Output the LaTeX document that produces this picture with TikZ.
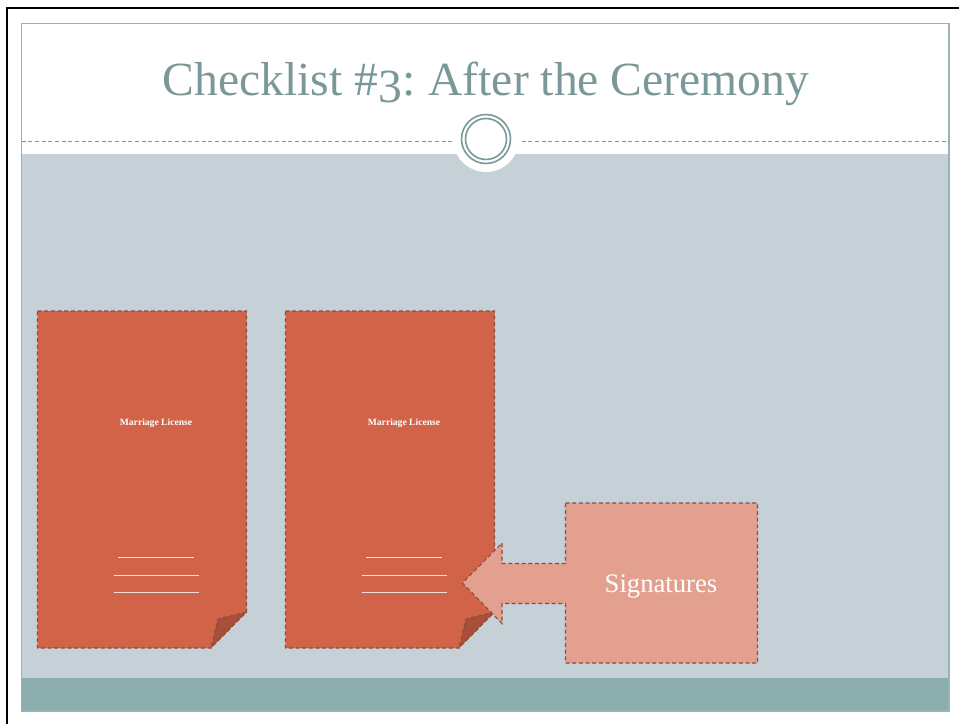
\documentclass[tikz,border=0pt]{standalone}
\usepackage{fontspec}
\setmainfont{Liberation Serif}
\definecolor{bodyblue}{HTML}{C5D1D7}
\definecolor{footteal}{HTML}{8BADAD}
\definecolor{titleteal}{HTML}{7B9899}
\definecolor{pagered}{HTML}{D16349}
\definecolor{folddark}{HTML}{A64F3A}
\definecolor{calloutpink}{HTML}{E3A08F}
\definecolor{edgedark}{HTML}{8F4A3C}
\tikzset{
	edged/.style={draw=edgedark, densely dashed, line width=0.8pt},
	whitetext/.style={text=white, inner sep=0pt}
}
\begin{document}
\begin{tikzpicture}[x=0.75pt, y=-0.75pt]
	\useasboundingbox (0,0) rectangle (959,724);
	\fill[white] (0,0) rectangle (959,724);
	\draw[black, line width=2pt] (7,724) -- (7,8) -- (959,8);

	% slide
	\fill[bodyblue] (21.5,154) rectangle (949,678);
	\fill[footteal] (21.5,678) rectangle (949,711);
	\draw[footteal!80!bodyblue, line width=0.8pt] (21.5,711) -- (21.5,23.5) -- (949,23.5) -- (949,711) -- cycle;
	\draw[titleteal, densely dashed, line width=0.5pt] (21.5,141) -- (949,141);
	\fill[white] (486,139) circle [radius=33];
	\draw[titleteal, line width=1.2pt] (486,139) circle [radius=24.5];
	\draw[titleteal, line width=1.2pt] (486,139) circle [radius=20.5];
	\node[text=titleteal, inner sep=0pt, font=\fontsize{35.7}{36}\selectfont] (title) at (486,84) {Checklist \#\raisebox{-0.15em}{3}:\hspace{-0.06em} After the Ceremony};

	% the two licenses
	\foreach \dx/\name in {0/licA, 248/licB} {
		\fill[pagered] (37.5+\dx,311) -- (246.5+\dx,311) -- (246.5+\dx,612) -- (211+\dx,648) -- (37.5+\dx,648) -- cycle;
		\fill[folddark] (246.5+\dx,612) -- (218+\dx,619) -- (211+\dx,648) -- cycle;
		\draw[edged] (37.5+\dx,311) -- (246.5+\dx,311) -- (246.5+\dx,612) -- (211+\dx,648) -- (37.5+\dx,648) -- cycle;
		\draw[edged] (246.5+\dx,612) -- (218+\dx,619) -- (211+\dx,648);
		\node[whitetext, font=\bfseries\fontsize{7.2}{8}\selectfont] (\name) at (156+\dx,423.5) {Marriage License};
		\draw[white!80!pagered, line width=0.7pt] (118+\dx,557) -- (194+\dx,557);
		\draw[white!80!pagered, line width=0.7pt] (113.5+\dx,575) -- (198.5+\dx,575);
		\draw[white!80!pagered, line width=0.7pt] (113.5+\dx,592) -- (198.5+\dx,592);
	}

	% callout
	\draw[edged, fill=calloutpink] (565.5,503) -- (757.5,503) -- (757.5,663) -- (565.5,663) -- (565.5,603.5) -- (502,603.5) -- (502,623.5) -- (462.5,583) -- (502,543) -- (502,563.5) -- (565.5,563.5) -- cycle;
	\node[whitetext, font=\fontsize{20}{22}\selectfont] (sign) at (661,587) {Signatures};
\end{tikzpicture}
\end{document}
